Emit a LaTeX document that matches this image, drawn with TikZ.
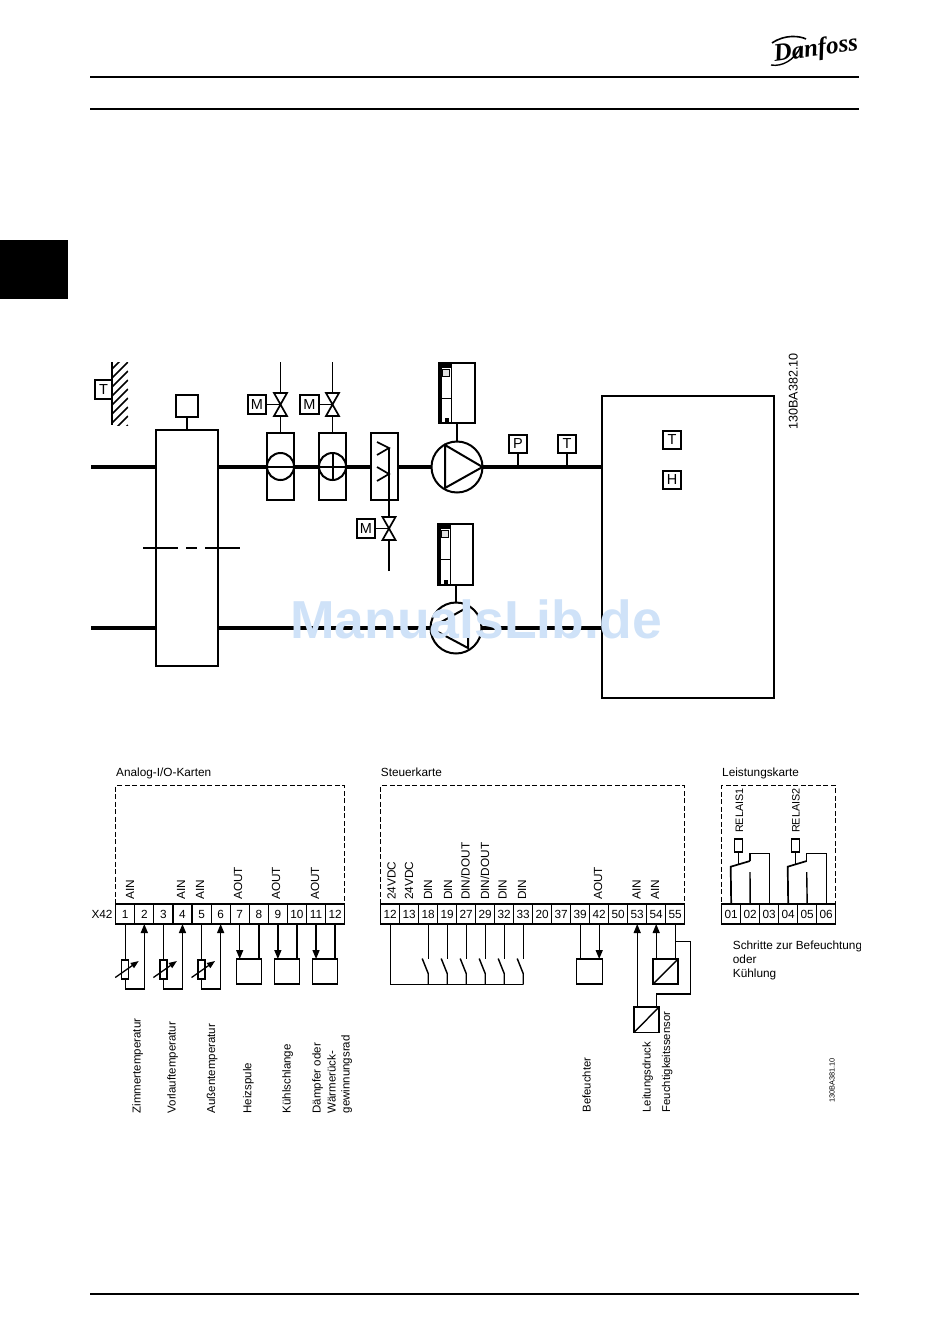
\documentclass[tikz,border=0pt]{standalone}
\usepackage{fontspec}
\setmainfont{Liberation Sans}
\newfontfamily\logofont{Liberation Serif}
\usetikzlibrary{arrows.meta,calc}
\definecolor{wmblue}{RGB}{207,226,248}
\newcommand{\fsn}{\fontsize{11.8}{13}\selectfont}
\newcommand{\fsr}{\fontsize{11.5}{13}\selectfont}
\newcommand{\mybox}[7][boxs]{%
 \pgfmathsetmacro\bw{#5-#3}\pgfmathsetmacro\bh{#6-#4}%
 \node[#1,minimum width=\bw pt,minimum height=\bh pt] (#2) at ({(#3+#5)/2},{(#4+#6)/2}) {#7};}
\newcommand{\myvalve}[3]{%
 \node[inner sep=0,outer sep=0,minimum width=13pt,minimum height=23pt] (#1) at (#2,#3) {};
 \draw[thin2,fill=white] (#1.north west)--(#1.north east)--(#1.south west)--(#1.south east)--cycle;}
\newcommand{\myvfd}[5]{% name x0 y0 x1 y1
 \mybox[boxs]{#1}{#2}{#3}{#4}{#5}{}
 \fill (#2,#3) rectangle ({#2+2.5},#5);
 \fill (#2,#3) rectangle ({#2+12},{#3+4.5});
 \draw[line width=1pt] ({#2+12},#3)--({#2+12},#5);
 \draw[line width=1pt] (#2,{#3+35})--({#2+12},{#3+35});
 \draw[line width=1pt,fill=black!12] ({#2+3.5},{#3+6})rectangle({#2+10},{#3+13});
 \fill ({#2+5.5},{#5-5}) rectangle ({#2+10},#5);}
\tikzset{
 boxs/.style={draw,line width=1.8pt,inner sep=0,outer sep=0,font=\fontsize{14.5}{15}\selectfont},
 coilbox/.style={draw,line width=1.4pt,inner sep=0,outer sep=0,fill=white},
 duct/.style={line width=4pt},
 thin2/.style={line width=1.7pt},
 wire/.style={line width=1.4pt},
 arr/.style={wire,-{Triangle[length=9pt,width=7pt]}},
 dbox/.style={draw,line width=1pt,dash pattern=on 5pt off 2.5pt,inner sep=0,outer sep=0},
 cell/.style={draw,line width=1.2pt,inner sep=0,outer sep=0,minimum width=19.08pt,minimum height=20pt,font=\fsn},
 tb/.style={draw,line width=1.3pt,inner sep=0,outer sep=0,fill=white},
 lbl/.style={rotate=90,anchor=west,inner sep=0,text height=9pt,text depth=1pt,font=\fsn},
 lblb/.style={lbl,font=\fsr},
 txt/.style={anchor=west,inner sep=0,text height=8pt,text depth=2pt,font=\fsn},
 rule/.style={line width=2pt}
}
\begin{document}
\begin{tikzpicture}[x=1pt,y=-1pt]
\useasboundingbox (0,0) rectangle (950,1344);
% page furniture
\coordinate (ra) at (90,77); \coordinate (rb) at (859,77);
\coordinate (rc) at (90,109); \coordinate (rd) at (859,109);
\coordinate (re) at (90,1294); \coordinate (rf) at (859,1294);
\draw[rule] (ra)--(rb); \draw[rule] (rc)--(rd); \draw[rule] (re)--(rf);
\fill (0,240) rectangle (68,299);
% logo
\node[inner sep=0,rotate=8,font=\fontsize{25}{26}\logofont\bfseries\itshape] (logo) at (816,50) {Danfoss};
\draw[line width=1.6pt] (772,43) .. controls (785,34) and (800,36) .. (806,39);
\draw[line width=1.4pt] (771,65) .. controls (782,67) and (795,60) .. (801,46);
% wall sensor
\mybox[boxs]{tw}{95}{380}{112}{399}{T}
\coordinate (wa) at (112,362); \coordinate (wb) at (112,425);
\draw[line width=2pt] (wa)--(wb);
\begin{scope}
\clip (112,362) rectangle (128,425.5);
\foreach \y in {369,378,...,446} \draw[line width=1.6pt] (112,\y)--(128,\y-16);
\end{scope}
% heat recovery
\mybox[boxs]{hr}{156}{430}{218}{666}{}
\mybox[boxs]{hrc}{176}{395}{198}{417}{}
\draw[thin2] (hrc.south)--(hrc.south |- hr.north);
\coordinate (dd1) at (143,548); \coordinate (dd2) at (178,548); \coordinate (dd3) at (186,548);
\coordinate (dd4) at (197,548); \coordinate (dd5) at (205,548); \coordinate (dd6) at (240,548);
\draw[thin2] (dd1)--(dd2) (dd3)--(dd4) (dd5)--(dd6);
% ducts
\coordinate (d1) at (91,466.5); \coordinate (d2) at (91,628);
\coordinate (rt) at (602,466.5); \coordinate (rb2) at (602,628);
\draw[duct] (d1)--(hr.west |- d1) (hr.east |- d1)--(rt);
\draw[duct] (d2)--(hr.west |- d2) (hr.east |- d2)--(rb2);
% room
\mybox[boxs]{room}{602}{396}{774}{698}{}
\mybox[boxs]{rT}{663}{431}{681}{449}{T}
\mybox[boxs]{rH}{663}{471}{681}{489}{H}
% coil 1
\mybox[coilbox]{c1}{267}{433}{294}{500}{}
\node[draw,line width=2pt,circle,fill=white,minimum size=27pt,inner sep=0,outer sep=0] (cc1) at (280.5,466.5) {};
\draw[line width=2pt] (cc1.west)--(cc1.east);
\myvalve{v1}{280.5}{404.5}
\mybox[boxs]{m1}{248}{395}{266}{414}{M}
\coordinate (p1) at (280.5,362);
\draw[thin2] (p1)--(v1.north) (v1.south)--(c1.north) (m1.east)--(v1.center);
% coil 2
\mybox[coilbox]{c2}{319}{433}{346}{500}{}
\node[draw,line width=2pt,circle,fill=white,minimum size=27pt,inner sep=0,outer sep=0] (cc2) at (332.5,466.5) {};
\draw[line width=2pt] (cc2.west)--(cc2.east) (cc2.north)--(cc2.south);
\myvalve{v2}{332.5}{404.5}
\mybox[boxs]{m2}{300}{395}{319}{414}{M}
\coordinate (p2) at (332.5,362);
\draw[thin2] (p2)--(v2.north) (v2.south)--(c2.north) (m2.east)--(v2.center);
% humidifier
\mybox[coilbox]{c3}{371}{433}{398}{500}{}
\myvalve{v3}{389}{528.5}
\mybox[boxs]{m3}{357}{519}{375}{538}{M}
\coordinate (p3) at (389,571); \coordinate (p4) at (389,448);
\draw[thin2] (p3)--(v3.south) (v3.north)--(p4);
\draw[wire] (m3.east)--(v3.center);
\draw[thin2] (377,442)--(p4)--(377,455) (377,467)--(389,474)--(377,481);
% supply fan
\node[draw,line width=2pt,circle,fill=white,minimum size=51pt,inner sep=0,outer sep=0] (f1) at (457,467) {};
\draw[line width=2pt] (445,445)--(f1.east)--(445,488)--cycle;
\myvfd{vf1}{439}{363}{475}{423}
\draw[wire] (vf1.south -| f1.north)--(f1.north);
% return fan
\node[draw,line width=2pt,circle,fill=white,minimum size=51pt,inner sep=0,outer sep=0] (f2) at (456,628) {};
\draw[line width=2pt] (468,607)--(f2.west)--(468,648)--cycle;
\myvfd{vf2}{438}{524}{473}{585}
\draw[thin2] (vf2.south -| f2.north)--(f2.north);
% P T
\mybox[boxs]{sP}{509}{435}{527}{453}{P}
\mybox[boxs]{sT}{558}{435}{576}{453}{T}
\draw[thin2] (sP.south)--(sP.south |- rt);
\draw[thin2] (sT.south)--(sT.south |- rt);
\node[rotate=90,inner sep=0,font=\fontsize{12.6}{14}\selectfont,anchor=west,text height=9pt,text depth=1pt] (id1) at (793.5,430) {130BA382.10};
% ---- analog
\node[txt] (t1) at (116,773) {Analog-I/O-Karten};
\mybox[dbox]{ab}{115.7}{785.7}{344.7}{904}{}
\foreach \n [count=\i] in {1,...,12} \node[cell] (a\n) at ({115.7+19.08*(\i-.5)},914) {\n};
\node[font=\fsn,inner sep=0] (x42) at (102,914) {X42};
\foreach \xx/\tt/\nm in {130/AIN/la,181/AIN/lb,200/AIN/lc,238/AOUT/ld,276/AOUT/le,315/AOUT/lf} \node[lbl] (\nm) at (\xx,900) {\tt};
% resistors
\foreach \p/\q/\r in {1/2/1,3/4/2,5/6/3}{
 \node[tb,minimum width=7pt,minimum height=19pt,anchor=north] (res\r) at (a\p.south |- 0,960) {};
 \draw[wire] (a\p.south)--(res\r.north);
 \draw[arr] (res\r.south)--($(res\r.south)+(0,10)$)-|(a\q.south);
 \draw[line width=1.3pt,-{Triangle[length=8pt,width=6pt]}] ($(res\r.center)+(-10,8)$)--($(res\r.center)+(13.5,-8.5)$);
}
\mybox[tb]{bb1}{236.7}{959}{261.7}{984}{}
\mybox[tb]{bb2}{274.5}{959}{299.5}{984}{}
\mybox[tb]{bb3}{312.3}{959}{337.3}{984}{}
\draw[arr] (a7.south)--(a7.south |- bb1.north);
\draw[wire] (a8.south)--(a8.south |- bb1.north);
\draw[arr] (a9.south)--(a9.south |- bb2.north);
\draw[wire] (a10.south)--(a10.south |- bb2.north);
\draw[arr] (a11.south)--(a11.south |- bb3.north);
\draw[wire] (a12.south)--(a12.south |- bb3.north);
\foreach \xx/\tt/\nm in {136.7/Zimmertemperatur/na,171.7/Vorlauftemperatur/nb,211/Außentemperatur/nc,247.3/Heizspule/nd,286.7/Kühlschlange/ne,316.7/Dämpfer oder/nf,331.5/Wärmerück-/ng,345.5/gewinnungsrad/nh} \node[lblb] (\nm) at (\xx,1113.5) {\tt};
% ---- control card
\node[txt] (t2) at (380.7,773) {Steuerkarte};
\mybox[dbox]{cb}{380.7}{785.7}{684.7}{904}{}
\foreach \n [count=\i] in {12,13,18,19,27,29,32,33,20,37,39,42,50,53,54,55} \node[cell,minimum width=19pt] (c\n) at ({380.7+19*(\i-.5)},914) {\n};
\foreach \xx/\tt/\nm in {391.7/24VDC/ma,409/24VDC/mb,428/DIN/mc,448/DIN/md,465.7/DIN\slash DOUT/me,485/DIN\slash DOUT/mf,502.7/DIN/mg,522/DIN/mh,598/AOUT/mi,636.7/AIN/mj,655/AIN/mk} \node[lbl] (\nm) at (\xx,900) {\tt};
\coordinate (bus) at (0,984.5);
\draw[wire] (c12.south)--(c12.south |- bus)--(c33.south |- bus);
\foreach \n in {18,19,27,29,32,33}{
 \coordinate (sw\n) at ($(c\n.south |- bus)+(0,-11)$);
 \draw[wire] (c\n.south)--($(c\n.south |- bus)+(0,-25.5)$);
 \draw[wire] (c\n.south |- bus)--(sw\n)--($(sw\n)+(-6,-15)$);
}
\mybox[tb]{bc}{576.7}{959}{602.3}{984}{}
\draw[wire] (c39.south)--(c39.south |- bc.north);
\draw[arr] (c42.south)--(c42.south |- bc.north);
\mybox[tb]{cv1}{653}{959}{678}{984}{}
\mybox[tb]{cv2}{634}{1007}{659}{1032.5}{}
\draw[wire] (cv1.south west)--(cv1.north east) (cv2.south west)--(cv2.north east);
\draw[arr] (c54.south |- cv1.north)--(c54.south);
\draw[arr] (c53.south |- cv2.north)--(c53.south);
\draw[wire] (c55.south)--(c55.south |- cv1.north);
\coordinate (w1) at (690.3,941.7); \coordinate (w2) at (690.3,994);
\draw[wire] (c55.south |- w1)--(w1)--(w2)--(w2 -| c54.south)--(c54.south |- cv2.north);
\foreach \xx/\tt/\nm in {586.7/Befeuchter/oa,646.7/Leitungsdruck/ob,666/Feuchtigkeitssensor/oc} \node[lbl,font=\fontsize{11.3}{13}\selectfont] (\nm) at (\xx,1112.5) {\tt};
\node[lbl,font=\fontsize{7.4}{8}\selectfont] (id2) at (830.5,1103) {130BA381.10};
% ---- power card
\node[txt] (t3) at (722,773) {Leistungskarte};
\mybox[dbox]{pb}{721.7}{785.7}{835.7}{904}{}
\foreach \n [count=\i] in {01,02,03,04,05,06} \node[cell,minimum width=19pt] (r\n) at ({721.7+19*(\i-.5)},914) {\n};
\node[lbl,font=\fontsize{10.8}{12}\selectfont] (lr1) at (739,833) {RELAIS1};
\node[lbl,font=\fontsize{10.8}{12}\selectfont] (lr2) at (795.5,833) {RELAIS2};
\mybox[tb]{co1}{734.7}{839}{742.3}{852}{}
\mybox[tb]{co2}{791.7}{839}{799.3}{852}{}
\draw[wire] (co1.south)--(738.5,864);
\draw[wire] (co2.south)--(795.5,864);
\draw[thin2] (r01.north)--(730.7,866.7)--(750,861);
\draw[wire] (750,861)--(750,853.7)--(r03.north |- 0,853.7)--(r03.north);
\draw[wire] (r02.north)--(750,872);
\draw[thin2] (r04.north)--(787.7,866.7)--(806.7,861);
\draw[wire] (806.7,861)--(806.7,853.7)--(r06.north |- 0,853.7)--(r06.north);
\draw[wire] (r05.north)--(806.7,872);
\begin{scope}
\clip (700,930) rectangle (860,990);
\node[txt] (s1) at (732.7,946) {Schritte zur Befeuchtung};
\node[txt] (s2) at (732.7,960) {oder};
\node[txt] (s3) at (732.7,974) {Kühlung};
\end{scope}
% watermark
\node[inner sep=0,anchor=base west,text=wmblue,font=\fontsize{53.5}{54}\selectfont\bfseries] (wm) at (290,638) {ManualsLib.de};
\end{tikzpicture}
\end{document}
